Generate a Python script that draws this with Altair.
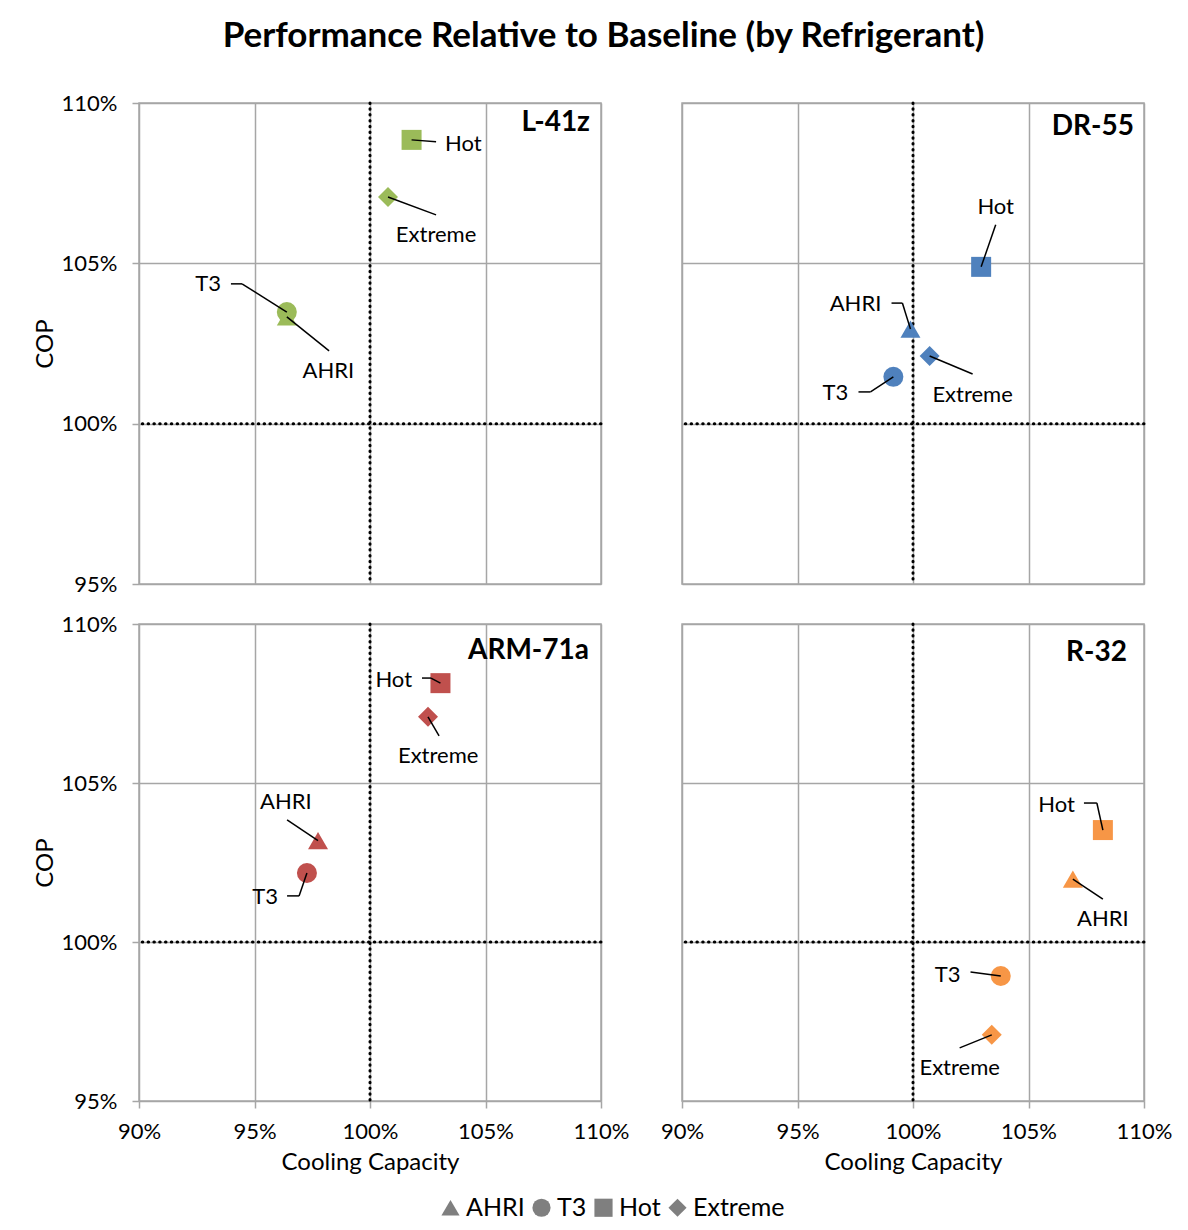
import altair as alt
import pandas as pd

# ---------------- data ----------------
conditions = ["AHRI", "T3", "Hot", "Extreme"]
shapes = ["triangle-up", "circle", "square", "diamond"]

refrigerants = ["L-41z", "DR-55", "ARM-71a", "R-32"]
ref_colors = ["#9BBB59", "#4F81BD", "#C0504D", "#F79646"]

# Cooling capacity (%) and COP (%) relative to baseline, order = conditions
l41z_capacity = [96.4, 96.4, 101.8, 100.78]
l41z_cop = [103.33, 103.48, 108.85, 107.07]

dr55_capacity = [99.89, 99.15, 102.95, 100.72]
dr55_cop = [102.95, 101.46, 104.89, 102.11]

arm71a_capacity = [97.75, 97.27, 103.05, 102.51]
arm71a_cop = [103.19, 102.17, 108.14, 107.08]

r32_capacity = [106.92, 103.8, 108.22, 103.41]
r32_cop = [101.98, 98.93, 103.52, 97.08]

x_ticks = [90, 95, 100, 105, 110]
y_ticks = [95, 100, 105, 110]
baseline = [100]

# data-label leader lines, in data units:
# (elbow_x, elbow_y, tail_x, tail_y, label_x, label_y, label_align)
l41z_notes = [
    (98.23, 102.27, 98.23, 102.27, 98.2, 101.64, "center"),
    (94.46, 104.36, 93.98, 104.36, 93.55, 104.36, "right"),
    (102.86, 108.79, 102.86, 108.79, 103.25, 108.72, "left"),
    (102.86, 106.51, 102.86, 106.51, 102.86, 105.88, "center"),
]
dr55_notes = [
    (99.54, 103.76, 99.07, 103.76, 98.63, 103.73, "right"),
    (98.16, 100.99, 97.64, 100.99, 97.2, 100.96, "right"),
    (103.58, 106.2, 103.58, 106.2, 103.58, 106.76, "center"),
    (102.58, 101.55, 102.58, 101.55, 102.58, 100.9, "center"),
]
arm71a_notes = [
    (96.41, 103.84, 96.41, 103.84, 96.36, 104.4, "center"),
    (96.93, 101.45, 96.41, 101.45, 96.02, 101.42, "right"),
    (102.64, 108.3, 102.25, 108.3, 101.82, 108.24, "right"),
    (102.99, 106.48, 102.99, 106.48, 102.95, 105.85, "center"),
]
r32_notes = [
    (108.22, 101.35, 108.22, 101.35, 108.22, 100.72, "center"),
    (102.49, 99.06, 102.49, 99.06, 102.06, 98.96, "right"),
    (107.96, 104.37, 107.4, 104.37, 107.01, 104.31, "right"),
    (102.02, 96.67, 102.02, 96.67, 102.02, 96.04, "center"),
]

FONT = "Lato"
GRID = "#A6A6A6"
LEGEND_GRAY = "#7F7F7F"

xscale = alt.Scale(domain=[90, 110], nice=False, zero=False)
yscale = alt.Scale(domain=[95, 110], nice=False, zero=False)


def panel(name, cap, cop, notes, show_x, show_y, name_dx, name_dy, height):
    xaxis = alt.Axis(
        values=x_ticks,
        labelExpr="datum.value + '%'",
        title="Cooling Capacity" if show_x else None,
        labels=show_x,
        ticks=show_x,
        grid=True,
        domain=False,
        labelFlush=False,
        labelPadding=13,
        titlePadding=8,
    )
    yaxis = alt.Axis(
        values=y_ticks,
        labelExpr="datum.value + '%'",
        title="COP" if show_y else None,
        labels=show_y,
        ticks=show_y,
        grid=True,
        domain=False,
        labelFlush=False,
        labelPadding=15,
        titlePadding=4,
    )

    def X(f):
        return alt.X(f, type="quantitative", scale=xscale, axis=xaxis)

    def Y(f):
        return alt.Y(f, type="quantitative", scale=yscale, axis=yaxis)

    pts = pd.DataFrame({"condition": conditions, "cap": cap, "cop": cop, "ref": name})

    segs, labs = [], []
    for c, x0, y0, n in zip(conditions, cap, cop, notes):
        ex, ey, tx, ty, lx, ly, al = n
        segs.append(dict(x=x0, y=y0, x2=ex, y2=ey))
        if (tx, ty) != (ex, ey):
            segs.append(dict(x=ex, y=ey, x2=tx, y2=ty))
        labs.append(dict(label=c, x=lx, y=ly, align=al))
    segs = pd.DataFrame(segs)
    labs = pd.DataFrame(labs)
    base_df = pd.DataFrame({"v": baseline})

    dotted = dict(color="black", strokeWidth=3, strokeDash=[0.5, 5.3], strokeCap="round")
    vline = alt.Chart(base_df).mark_rule(**dotted).encode(x=X("v"))
    hline = alt.Chart(base_df).mark_rule(**dotted).encode(y=Y("v"))

    points = alt.Chart(pts).mark_point(filled=True, opacity=1, size=400).encode(
        x=X("cap"),
        y=Y("cop"),
        color=alt.Color(
            "ref:N", scale=alt.Scale(domain=refrigerants, range=ref_colors), legend=None
        ),
        shape=alt.Shape(
            "condition:N",
            scale=alt.Scale(domain=conditions, range=shapes),
            legend=alt.Legend(
                title=None,
                orient="none",
                legendX=299,
                legendY=1092,
                direction="horizontal",
                labelFont=FONT,
                labelFontSize=25,
                labelColor="black",
                symbolSize=330,
                symbolFillColor=LEGEND_GRAY,
                symbolStrokeColor=LEGEND_GRAY,
                symbolStrokeWidth=0,
                symbolOpacity=1,
                columnPadding=4,
                labelOffset=3,
            ),
        ),
    )

    leaders = alt.Chart(segs).mark_rule(color="black", strokeWidth=1.5).encode(
        x=X("x"), y=Y("y"), x2="x2", y2="y2"
    )

    text_layers = []
    for al in ["left", "center", "right"]:
        sub = labs[labs["align"] == al]
        if len(sub):
            text_layers.append(
                alt.Chart(sub).mark_text(
                    align=al, baseline="middle", font=FONT, fontSize=22, color="black"
                ).encode(x=X("x"), y=Y("y"), text="label:N")
            )

    title_df = pd.DataFrame({"x": [110], "y": [110], "name": [name]})
    name_text = alt.Chart(title_df).mark_text(
        align="right", baseline="top", font=FONT, fontSize=28, fontWeight="bold",
        color="black", dx=name_dx, dy=name_dy,
    ).encode(x=X("x"), y=Y("y"), text="name:N")

    return alt.layer(vline, hline, points, leaders, *text_layers, name_text).properties(
        width=462, height=height
    )


tl = panel(refrigerants[0], l41z_capacity, l41z_cop, l41z_notes, False, True, -11, 6, 481)
tr = panel(refrigerants[1], dr55_capacity, dr55_cop, dr55_notes, False, False, -10, 10, 481)
bl = panel(refrigerants[2], arm71a_capacity, arm71a_cop, arm71a_notes, True, True, -12, 13, 477)
br = panel(refrigerants[3], r32_capacity, r32_cop, r32_notes, True, False, -17, 15, 477)

chart = (
    alt.concat(tl, tr, bl, br, columns=2, spacing={"row": 40, "column": 81}, bounds="flush")
    .properties(
        title=alt.TitleParams(
            "Performance Relative to Baseline (by Refrigerant)",
            font=FONT, fontSize=35, fontWeight="bold", color="black",
            anchor="middle", offset=37, dx=1,
        ),
        padding={"left": 24, "top": 11, "right": 5, "bottom": 5},
    )
    .configure_view(stroke=GRID, strokeWidth=1.5)
    .configure_legend(symbolBaseFillColor=LEGEND_GRAY, symbolBaseStrokeColor=LEGEND_GRAY)
    .configure_axis(
        gridColor=GRID, gridWidth=1.5, tickColor=GRID, tickWidth=1.5, tickSize=7,
        labelFont=FONT, labelFontSize=22, labelColor="black",
        titleFont=FONT, titleFontSize=24, titleFontWeight="normal", titleColor="black",
    )
)

chart.save("out.html", embed_options={"renderer": "svg", "actions": False})
